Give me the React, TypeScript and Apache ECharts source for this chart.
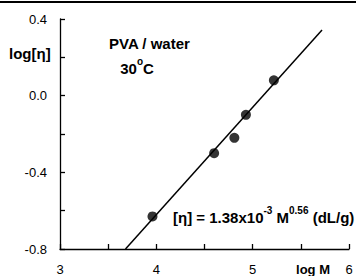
import React, { useEffect, useRef } from "react";
import * as echarts from "echarts";

const logM = [3.96, 4.6, 4.81, 4.93, 5.22];
const logEta = [-0.63, -0.3, -0.22, -0.1, 0.08];
const fitLogM = [3.68, 5.72];
const fitLogEta = [-0.8, 0.343];
const xTicks = { min: 3, max: 6, interval: 1 };
const yTicks = { min: -0.8, max: 0.4, interval: 0.4 };

const FONT = "'Liberation Sans', Arial, sans-serif";

export default function App() {
  const ref = useRef<HTMLDivElement>(null);
  useEffect(() => {
    document.body.style.margin = "0";
    const chart = echarts.init(ref.current!, null, { renderer: "svg" });
    const axisCommon = {
      axisLine: { show: true, onZero: false, lineStyle: { color: "#000", width: 1.3 } },
      axisTick: { show: true, inside: true, length: 5, lineStyle: { color: "#000", width: 1.3 } },
      minorTick: { show: true, splitNumber: 2, length: 5, lineStyle: { color: "#000", width: 1.3 } },
      splitLine: { show: false },
      minorSplitLine: { show: false },
    };
    chart.setOption({
      animation: false,
      backgroundColor: "#fff",
      grid: { left: 60, top: 19, right: 7, bottom: 27 },
      xAxis: {
        type: "value",
        ...xTicks,
        ...axisCommon,
        axisLabel: { color: "#000", fontSize: 13, fontFamily: FONT, margin: 14 },
      },
      yAxis: {
        type: "value",
        ...yTicks,
        ...axisCommon,
        axisLabel: {
          color: "#000",
          fontSize: 13,
          fontFamily: FONT,
          margin: 13,
          formatter: (v: number) => v.toFixed(1),
        },
      },
      series: [
        {
          type: "line",
          data: fitLogM.map((x, i) => [x, fitLogEta[i]]),
          symbol: "none",
          lineStyle: { color: "#000", width: 1.5 },
          silent: true,
        },
        {
          type: "scatter",
          data: logM.map((x, i) => [x, logEta[i]]),
          symbol: "circle",
          symbolSize: 10,
          itemStyle: { color: "#000" },
        },
      ],
      graphic: [
        { type: "rect", left: 0, top: 1, shape: { width: 356, height: 2 }, style: { fill: "#000" } },
        {
          type: "text",
          x: 9,
          y: 53,
          style: { text: "log[η]", font: `bold 15px ${FONT}`, fill: "#000", textVerticalAlign: "middle" },
        },
        {
          type: "text",
          x: 109,
          y: 43,
          style: { text: "PVA / water", font: `bold 15px ${FONT}`, fill: "#000", textVerticalAlign: "middle" },
        },
        {
          type: "text",
          x: 137,
          y: 66,
          style: {
            text: "{a|30}{s|o}{a|C}",
            textAlign: "center",
            textVerticalAlign: "middle",
            rich: {
              a: { font: `bold 15px ${FONT}`, fill: "#000", lineHeight: 19, verticalAlign: "bottom" },
              s: { font: `bold 10px ${FONT}`, fill: "#000", lineHeight: 19, verticalAlign: "top" },
            },
          },
        },
        {
          type: "text",
          x: 173,
          y: 215,
          style: {
            text: "{a|[η] = 1.38x10}{s|-3}{a| M}{s|0.56}{a| (dL/g)}",
            textVerticalAlign: "middle",
            rich: {
              a: { font: `bold 15px ${FONT}`, fill: "#000", lineHeight: 19, verticalAlign: "bottom" },
              s: { font: `bold 10px ${FONT}`, fill: "#000", lineHeight: 19, verticalAlign: "top" },
            },
          },
        },
        {
          type: "text",
          x: 313,
          y: 269,
          style: {
            text: "log M",
            font: `bold 13px ${FONT}`,
            fill: "#000",
            textAlign: "center",
            textVerticalAlign: "middle",
          },
        },
      ],
    });
    return () => chart.dispose();
  }, []);
  return <div ref={ref} style={{ width: 356, height: 276 }} />;
}
